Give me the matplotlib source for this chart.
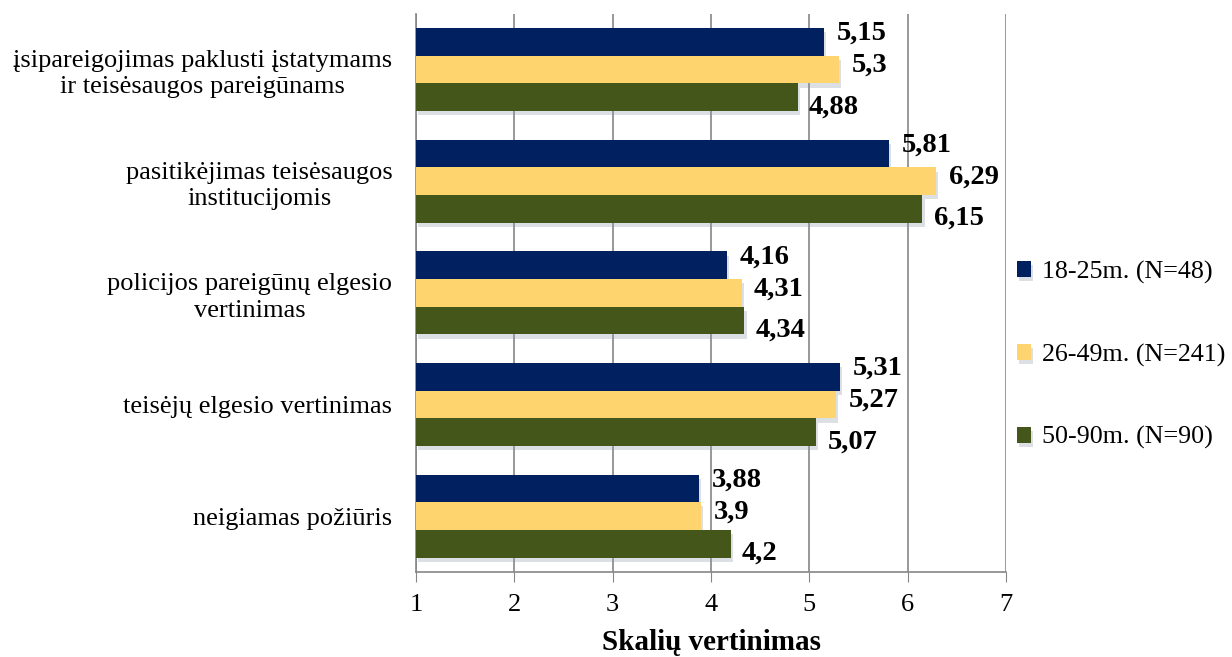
import matplotlib
matplotlib.use("Agg")
import matplotlib.pyplot as plt
import numpy as np
from matplotlib import patheffects as pe

categories = [
    "įsipareigojimas paklusti įstatymams\nir teisėsaugos pareigūnams",
    "pasitikėjimas teisėsaugos\ninstitucijomis",
    "policijos pareigūnų elgesio\nvertinimas",
    "teisėjų elgesio vertinimas",
    "neigiamas požiūris",
]
series_names = ["18-25m. (N=48)", "26-49m. (N=241)", "50-90m. (N=90)"]
s1 = [5.15, 5.81, 4.16, 5.31, 3.88]
s2 = [5.30, 6.29, 4.31, 5.27, 3.90]
s3 = [4.88, 6.15, 4.34, 5.07, 4.20]
labels1 = ["5,15", "5,81", "4,16", "5,31", "3,88"]
labels2 = ["5,3", "6,29", "4,31", "5,27", "3,9"]
labels3 = ["4,88", "6,15", "4,34", "5,07", "4,2"]
colors = ["#002060", "#FDD46E", "#44561A"]
xticks = [1, 2, 3, 4, 5, 6, 7]

plt.rcParams['font.family'] = ['Liberation Serif', 'DejaVu Serif']

fig = plt.figure(figsize=(12.32, 6.57), dpi=100)
ax = fig.add_axes([0.3377, 0.1294, 0.8166 - 0.3377, 0.979 - 0.1294])

n = len(categories)
y = np.arange(n)
h = 0.248
offsets = [-h, 0, h]
data = [s1, s2, s3]
labs = [labels1, labels2, labels3]
lab_dy = [6, 3, -7]   # points
lab_dx = [9, 9, 8]

shadow = [pe.SimplePatchShadow(offset=(1.5, -3), shadow_rgbFace=(0.55, 0.6, 0.65), alpha=0.3), pe.Normal()]

for i in range(3):
    vals = np.array(data[i])
    bars = ax.barh(y + offsets[i], vals - 1, left=1, height=h, color=colors[i],
                   label=series_names[i], zorder=3)
    for b in bars:
        b.set_path_effects(shadow)
    for j in range(n):
        ax.annotate(labs[i][j], xy=(vals[j], y[j] + offsets[i]),
                    xytext=(lab_dx[i], lab_dy[i]), textcoords='offset points',
                    ha='left', va='center', fontsize=20.5, fontweight='bold',
                    color='black', zorder=4)

ax.set_xlim(1, 7)
ax.set_ylim(n - 0.5, -0.5)
ax.set_xticks(xticks)
ax.set_xticklabels([str(t) for t in xticks], fontsize=19)
ax.set_yticks(y)
ax.set_yticklabels(categories, fontsize=19, multialignment='center', linespacing=1.25)
ax.tick_params(axis='y', length=0, pad=17)
ax.tick_params(axis='x', length=7, color='#868686', pad=9)
ax.grid(axis='x', color='#868686', linewidth=1.2, zorder=0)
ax.set_axisbelow(True)
for s in ['top', 'right']:
    ax.spines[s].set_visible(False)
for s in ['left', 'bottom']:
    ax.spines[s].set_color('#868686')
    ax.spines[s].set_linewidth(1.2)

ax.set_xlabel("Skalių vertinimas", fontsize=21, fontweight='bold', labelpad=9)

leg = fig.legend(*ax.get_legend_handles_labels(), loc='center left',
                 bbox_to_anchor=(1017 / 1232, 1 - 355 / 657), bbox_transform=fig.transFigure,
                 frameon=False, fontsize=18.7, labelspacing=2.3, handlelength=0.55,
                 handleheight=0.55, handletextpad=0.4, borderaxespad=0, borderpad=0)

fig.savefig("out.png", dpi=100)
